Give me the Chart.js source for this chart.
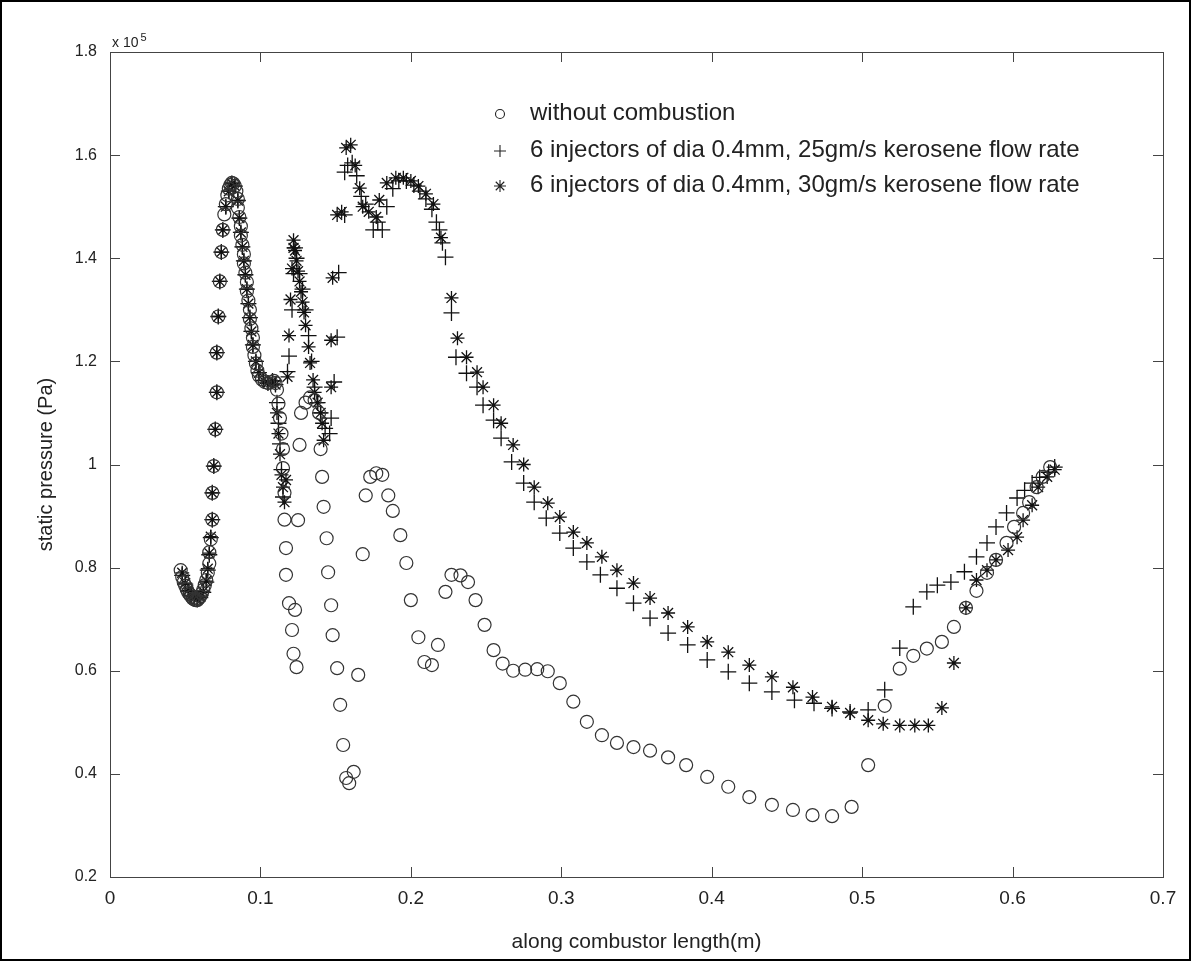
<!DOCTYPE html>
<html>
<head>
<meta charset="utf-8">
<title>static pressure along combustor</title>
<script src="https://cdn.jsdelivr.net/npm/chart.js"></script>
<style>
    body { margin: 0; background: #fff; }
    #wrap { width: 1191px; height: 961px; }
</style>
</head>
<body>
<div id="wrap"><canvas id="pressureChart" width="1191" height="961"></canvas></div>
<script>
// Values in units of 1e5 Pa, x in metres
const xNoComb = [0.047, 0.048, 0.049, 0.050, 0.051, 0.052, 0.053, 0.054, 0.055, 0.056, 0.057, 0.058, 0.059, 0.060, 0.061, 0.062, 0.063, 0.064, 0.065, 0.066, 0.066, 0.067, 0.068, 0.068, 0.069, 0.070, 0.071, 0.071, 0.072, 0.073, 0.074, 0.075, 0.076, 0.077, 0.078, 0.079, 0.080, 0.081, 0.082, 0.083, 0.084, 0.085, 0.085, 0.086, 0.087, 0.087, 0.088, 0.089, 0.089, 0.090, 0.091, 0.091, 0.092, 0.093, 0.093, 0.094, 0.095, 0.095, 0.096, 0.097, 0.098, 0.099, 0.101, 0.103, 0.105, 0.107, 0.109, 0.110, 0.111, 0.112, 0.113, 0.114, 0.115, 0.115, 0.116, 0.116, 0.117, 0.117, 0.119, 0.121, 0.122, 0.124, 0.123, 0.125, 0.126, 0.127, 0.130, 0.133, 0.136, 0.139, 0.140, 0.141, 0.142, 0.144, 0.145, 0.147, 0.148, 0.151, 0.153, 0.155, 0.157, 0.159, 0.162, 0.165, 0.168, 0.170, 0.173, 0.177, 0.181, 0.185, 0.188, 0.193, 0.197, 0.200, 0.205, 0.209, 0.214, 0.218, 0.223, 0.227, 0.233, 0.238, 0.243, 0.249, 0.255, 0.261, 0.268, 0.276, 0.284, 0.291, 0.299, 0.308, 0.317, 0.327, 0.337, 0.348, 0.359, 0.371, 0.383, 0.397, 0.411, 0.425, 0.440, 0.454, 0.467, 0.480, 0.493, 0.504, 0.515, 0.525, 0.534, 0.543, 0.553, 0.561, 0.569, 0.576, 0.583, 0.589, 0.596, 0.601, 0.607, 0.611, 0.616, 0.620, 0.625];
const yNoComb = [0.795, 0.782, 0.772, 0.765, 0.758, 0.752, 0.748, 0.744, 0.740, 0.738, 0.737, 0.737, 0.740, 0.744, 0.750, 0.757, 0.766, 0.776, 0.790, 0.808, 0.830, 0.855, 0.893, 0.945, 0.997, 1.068, 1.140, 1.217, 1.287, 1.355, 1.412, 1.455, 1.485, 1.505, 1.522, 1.535, 1.542, 1.546, 1.545, 1.540, 1.530, 1.515, 1.498, 1.480, 1.462, 1.444, 1.426, 1.408, 1.390, 1.372, 1.354, 1.336, 1.318, 1.300, 1.282, 1.264, 1.246, 1.228, 1.212, 1.196, 1.182, 1.172, 1.165, 1.160, 1.158, 1.160, 1.162, 1.158, 1.145, 1.118, 1.090, 1.060, 1.030, 0.993, 0.945, 0.893, 0.838, 0.786, 0.731, 0.679, 0.633, 0.607, 0.718, 0.892, 1.038, 1.100, 1.120, 1.130, 1.125, 1.100, 1.030, 0.976, 0.918, 0.857, 0.791, 0.727, 0.669, 0.605, 0.534, 0.456, 0.392, 0.382, 0.404, 0.592, 0.826, 0.940, 0.976, 0.983, 0.980, 0.940, 0.910, 0.863, 0.809, 0.737, 0.665, 0.617, 0.611, 0.650, 0.753, 0.786, 0.785, 0.772, 0.737, 0.689, 0.640, 0.614, 0.600, 0.602, 0.603, 0.599, 0.576, 0.540, 0.501, 0.475, 0.460, 0.452, 0.445, 0.432, 0.417, 0.394, 0.375, 0.355, 0.340, 0.330, 0.320, 0.318, 0.336, 0.417, 0.532, 0.604, 0.629, 0.643, 0.656, 0.685, 0.722, 0.755, 0.790, 0.815, 0.848, 0.879, 0.906, 0.927, 0.956, 0.976, 0.995];

const x25 = [0.048, 0.050, 0.052, 0.054, 0.056, 0.058, 0.060, 0.062, 0.064, 0.065, 0.066, 0.067, 0.068, 0.068, 0.069, 0.070, 0.071, 0.071, 0.072, 0.073, 0.074, 0.075, 0.077, 0.079, 0.081, 0.083, 0.085, 0.086, 0.087, 0.088, 0.089, 0.090, 0.091, 0.092, 0.093, 0.094, 0.095, 0.097, 0.099, 0.102, 0.105, 0.108, 0.110, 0.111, 0.112, 0.113, 0.114, 0.115, 0.118, 0.119, 0.121, 0.122, 0.123, 0.124, 0.126, 0.128, 0.130, 0.132, 0.134, 0.136, 0.138, 0.140, 0.143, 0.146, 0.147, 0.149, 0.151, 0.152, 0.156, 0.156, 0.158, 0.161, 0.164, 0.167, 0.170, 0.175, 0.178, 0.181, 0.184, 0.188, 0.192, 0.197, 0.202, 0.206, 0.210, 0.214, 0.217, 0.219, 0.221, 0.223, 0.227, 0.230, 0.237, 0.244, 0.248, 0.255, 0.260, 0.267, 0.275, 0.282, 0.290, 0.299, 0.308, 0.317, 0.326, 0.337, 0.348, 0.359, 0.371, 0.384, 0.397, 0.411, 0.425, 0.440, 0.455, 0.468, 0.480, 0.492, 0.504, 0.515, 0.525, 0.534, 0.543, 0.550, 0.559, 0.568, 0.576, 0.583, 0.589, 0.596, 0.603, 0.608, 0.613, 0.618, 0.624, 0.628];
const y25 = [0.785, 0.768, 0.754, 0.745, 0.740, 0.738, 0.742, 0.752, 0.772, 0.795, 0.825, 0.858, 0.893, 0.945, 0.997, 1.068, 1.140, 1.217, 1.287, 1.355, 1.412, 1.455, 1.500, 1.530, 1.545, 1.540, 1.512, 1.478, 1.450, 1.422, 1.395, 1.368, 1.340, 1.312, 1.285, 1.258, 1.232, 1.200, 1.178, 1.163, 1.158, 1.162, 1.155, 1.120, 1.080, 1.040, 0.990, 0.937, 1.180, 1.210, 1.300, 1.370, 1.420, 1.400, 1.370, 1.340, 1.300, 1.250, 1.200, 1.150, 1.120, 1.100, 1.070, 1.060, 1.090, 1.160, 1.247, 1.372, 1.484, 1.567, 1.580, 1.585, 1.560, 1.520, 1.505, 1.455, 1.470, 1.455, 1.500, 1.535, 1.550, 1.550, 1.542, 1.530, 1.515, 1.495, 1.470, 1.455, 1.430, 1.402, 1.294, 1.208, 1.177, 1.150, 1.115, 1.086, 1.051, 1.005, 0.964, 0.927, 0.896, 0.867, 0.838, 0.811, 0.786, 0.760, 0.731, 0.702, 0.673, 0.650, 0.621, 0.598, 0.576, 0.559, 0.543, 0.537, 0.527, 0.520, 0.524, 0.563, 0.644, 0.724, 0.753, 0.766, 0.772, 0.792, 0.821, 0.848, 0.879, 0.906, 0.935, 0.950, 0.964, 0.975, 0.985, 0.995];

const x30 = [0.048, 0.050, 0.052, 0.054, 0.056, 0.058, 0.060, 0.062, 0.064, 0.065, 0.066, 0.067, 0.068, 0.068, 0.069, 0.070, 0.071, 0.071, 0.072, 0.073, 0.074, 0.075, 0.077, 0.079, 0.081, 0.083, 0.085, 0.086, 0.087, 0.088, 0.089, 0.090, 0.091, 0.092, 0.093, 0.094, 0.095, 0.097, 0.099, 0.102, 0.105, 0.108, 0.110, 0.111, 0.112, 0.113, 0.114, 0.115, 0.116, 0.117, 0.118, 0.119, 0.120, 0.121, 0.122, 0.122, 0.123, 0.124, 0.125, 0.126, 0.127, 0.128, 0.129, 0.130, 0.132, 0.133, 0.135, 0.136, 0.138, 0.140, 0.141, 0.142, 0.147, 0.147, 0.148, 0.151, 0.154, 0.157, 0.160, 0.163, 0.166, 0.168, 0.172, 0.177, 0.179, 0.184, 0.190, 0.195, 0.200, 0.205, 0.210, 0.215, 0.220, 0.227, 0.231, 0.237, 0.244, 0.248, 0.255, 0.260, 0.268, 0.275, 0.282, 0.291, 0.299, 0.308, 0.317, 0.327, 0.337, 0.348, 0.359, 0.371, 0.384, 0.397, 0.411, 0.425, 0.440, 0.454, 0.467, 0.480, 0.492, 0.504, 0.514, 0.525, 0.535, 0.544, 0.553, 0.561, 0.569, 0.576, 0.583, 0.589, 0.597, 0.603, 0.607, 0.613, 0.617, 0.623, 0.628];
const y30 = [0.790, 0.770, 0.756, 0.746, 0.741, 0.739, 0.743, 0.754, 0.774, 0.798, 0.828, 0.860, 0.893, 0.945, 0.997, 1.068, 1.140, 1.217, 1.287, 1.355, 1.412, 1.455, 1.500, 1.530, 1.545, 1.540, 1.512, 1.478, 1.450, 1.422, 1.395, 1.368, 1.340, 1.312, 1.285, 1.258, 1.232, 1.200, 1.178, 1.163, 1.158, 1.162, 1.155, 1.100, 1.060, 1.020, 0.980, 0.956, 0.927, 0.970, 1.170, 1.250, 1.320, 1.380, 1.420, 1.435, 1.415, 1.395, 1.375, 1.355, 1.335, 1.315, 1.295, 1.270, 1.228, 1.197, 1.164, 1.140, 1.120, 1.100, 1.080, 1.047, 1.150, 1.241, 1.362, 1.484, 1.490, 1.614, 1.620, 1.580, 1.536, 1.500, 1.490, 1.480, 1.513, 1.546, 1.556, 1.556, 1.550, 1.540, 1.525, 1.505, 1.440, 1.323, 1.245, 1.208, 1.179, 1.150, 1.115, 1.080, 1.038, 1.000, 0.956, 0.925, 0.898, 0.869, 0.848, 0.821, 0.795, 0.770, 0.741, 0.712, 0.685, 0.656, 0.636, 0.611, 0.588, 0.568, 0.549, 0.530, 0.518, 0.504, 0.497, 0.494, 0.494, 0.494, 0.528, 0.615, 0.722, 0.776, 0.795, 0.815, 0.834, 0.859, 0.892, 0.921, 0.956, 0.976, 0.990];

const seriesNames = [
    'without combustion',
    '6 injectors of dia 0.4mm, 25gm/s kerosene flow rate',
    '6 injectors of dia 0.4mm, 30gm/s kerosene flow rate'
];
const xTickLabels = ['0', '0.1', '0.2', '0.3', '0.4', '0.5', '0.6', '0.7'];
const yTickLabels = ['0.2', '0.4', '0.6', '0.8', '1', '1.2', '1.4', '1.6', '1.8'];

const NARROW = '"Liberation Sans Narrow", "Arial Narrow", "Liberation Sans", Arial, sans-serif';
const PLAIN = '"Liberation Sans", Arial, Helvetica, sans-serif';

function toPoints(xs, ys) {
    return xs.map((x, i) => ({ x: x, y: ys[i] }));
}

// draw a legend marker in the same style as the data marks
function drawMarker(ctx, style, x, y, r) {
    ctx.beginPath();
    if (style === 'circle') {
        ctx.arc(x, y, r, 0, Math.PI * 2);
    } else {
        ctx.moveTo(x - r, y); ctx.lineTo(x + r, y);
        ctx.moveTo(x, y - r); ctx.lineTo(x, y + r);
        if (style === 'star') {
            const d = r * Math.SQRT1_2;
            ctx.moveTo(x - d, y - d); ctx.lineTo(x + d, y + d);
            ctx.moveTo(x - d, y + d); ctx.lineTo(x + d, y - d);
        }
    }
    ctx.stroke();
}

const matlabFrame = {
    id: 'matlabFrame',
    afterDraw(chart) {
        const { ctx, chartArea: a, scales } = chart;
        ctx.save();

        // outer picture border
        ctx.strokeStyle = '#000';
        ctx.lineWidth = 2;
        ctx.strokeRect(1, 1, chart.width - 2, chart.height - 2);

        // axes box
        ctx.strokeStyle = '#444';
        ctx.lineWidth = 1;
        ctx.strokeRect(a.left + 0.5, a.top + 0.5, a.right - a.left, a.bottom - a.top);

        // inward ticks on all four sides
        const tl = 10;
        ctx.beginPath();
        scales.x.ticks.forEach(t => {
            const px = Math.round(scales.x.getPixelForValue(t.value)) + 0.5;
            ctx.moveTo(px, a.bottom); ctx.lineTo(px, a.bottom - tl);
            ctx.moveTo(px, a.top); ctx.lineTo(px, a.top + tl);
        });
        scales.y.ticks.forEach(t => {
            const py = Math.round(scales.y.getPixelForValue(t.value)) + 0.5;
            ctx.moveTo(a.left, py); ctx.lineTo(a.left + tl, py);
            ctx.moveTo(a.right, py); ctx.lineTo(a.right - tl, py);
        });
        ctx.stroke();

        // exponent label
        ctx.fillStyle = '#222';
        ctx.textBaseline = 'alphabetic';
        ctx.textAlign = 'left';
        ctx.font = '14px ' + PLAIN;
        ctx.fillText('x 10', a.left + 2, a.top - 5);
        const w = ctx.measureText('x 10').width;
        ctx.font = '11px ' + PLAIN;
        ctx.fillText('5', a.left + 4 + w, a.top - 11);

        // legend inside the axes, no box
        const styles = ['circle', 'cross', 'star'];
        const rows = [61, 98, 133];
        const mx = a.left + 390;
        ctx.font = '21px ' + NARROW;
        const longest = ctx.measureText(seriesNames[1]).width;
        const fs = Math.min(24, 21 * 572 / longest);
        ctx.font = fs.toFixed(1) + 'px ' + NARROW;
        ctx.textBaseline = 'middle';
        ctx.strokeStyle = '#222';
        ctx.lineWidth = 1.1;
        seriesNames.forEach((name, i) => {
            const y = a.top + rows[i];
            drawMarker(ctx, styles[i], mx, y + 1, styles[i] === 'circle' ? 4.5 : 6);
            ctx.fillText(name, mx + 30, y);
        });
        ctx.restore();
    }
};

const ctx = document.getElementById('pressureChart');
new Chart(ctx, {
    type: 'scatter',
    data: {
        datasets: [
            {
                label: seriesNames[0],
                data: toPoints(xNoComb, yNoComb),
                pointStyle: 'circle',
                pointRadius: 6.5,
                pointBorderWidth: 1.2,
                pointBorderColor: '#333',
                pointBackgroundColor: 'rgba(0,0,0,0)'
            },
            {
                label: seriesNames[1],
                data: toPoints(x25, y25),
                pointStyle: 'cross',
                pointRadius: 8,
                pointBorderWidth: 1.3,
                pointBorderColor: '#111'
            },
            {
                label: seriesNames[2],
                data: toPoints(x30, y30),
                pointStyle: 'star',
                pointRadius: 7,
                pointBorderWidth: 1.3,
                pointBorderColor: '#111'
            }
        ]
    },
    options: {
        responsive: false,
        animation: false,
        devicePixelRatio: 1,
        layout: { padding: { left: 20, right: 28, top: 52, bottom: 4 } },
        plugins: {
            legend: { display: false },
            tooltip: { enabled: false }
        },
        scales: {
            x: {
                type: 'linear',
                min: 0,
                max: 0.7,
                afterFit: s => { s.height = 80; },
                grid: { display: false, drawTicks: false },
                border: { display: false },
                ticks: {
                    stepSize: 0.1,
                    padding: 10,
                    color: '#222',
                    font: { family: NARROW, size: 19 },
                    callback: (v, i) => xTickLabels[i]
                },
                title: {
                    display: true,
                    text: 'along combustor length(m)',
                    color: '#222',
                    font: { family: NARROW, size: 21 },
                    padding: { top: 0, bottom: 2 }
                }
            },
            y: {
                type: 'linear',
                min: 0.2,
                max: 1.8,
                afterFit: s => { s.width = 90; },
                grid: { display: false, drawTicks: false },
                border: { display: false },
                ticks: {
                    stepSize: 0.2,
                    padding: 13,
                    color: '#222',
                    font: { family: PLAIN, size: 16 },
                    callback: (v, i) => yTickLabels[i]
                },
                title: {
                    display: true,
                    text: 'static pressure (Pa)',
                    color: '#222',
                    font: { family: NARROW, size: 20 },
                    padding: { top: 14, bottom: 0 }
                }
            }
        }
    },
    plugins: [matlabFrame]
});
</script>
</body>
</html>
